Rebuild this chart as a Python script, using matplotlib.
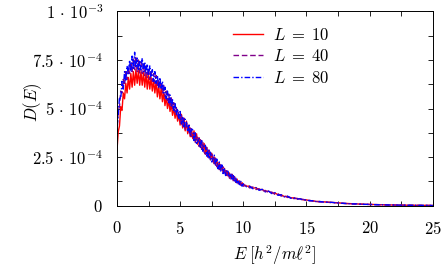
import numpy as np
import matplotlib
matplotlib.use("Agg")
import matplotlib.pyplot as plt
from matplotlib.ticker import MultipleLocator, FixedLocator

plt.rcParams["mathtext.fontset"] = "cm"
plt.rcParams["font.family"] = ["serif"]
plt.rcParams["font.serif"] = ["cmr10", "DejaVu Serif"]

# energy grid: fine steps up to 10, then coarser towards the tail
E_FINE = [round(0.1 * i, 1) for i in range(100)]
E_MID = [10.0 + 0.25 * i for i in range(24)]
E_TAIL = [16.0 + 0.5 * i for i in range(19)]
E = np.array(E_FINE + E_MID + E_TAIL)

# D(E) in units of 1e-4
D_L10 = [
    2.8, 3.8, 4.1, 5.1, 4.9, 5.8, 5.5, 6.3, 5.8, 6.6,
    6.0, 6.8, 6.1, 6.9, 6.2, 7.0, 6.3, 6.95, 6.2, 6.9,
    6.2, 6.85, 6.1, 6.8, 6.0, 6.7, 6.0, 6.6, 5.9, 6.45,
    5.8, 6.4, 5.6, 6.2, 5.5, 6.05, 5.35, 5.85, 5.15, 5.6,
    5.0, 5.45, 4.85, 5.25, 4.65, 5.05, 4.5, 4.9, 4.35, 4.7,
    4.15, 4.7, 4.0, 4.5, 3.85, 4.35, 3.7, 4.15, 3.55, 3.95,
    3.45, 3.85, 3.3, 3.7, 3.15, 3.5, 3.0, 3.35, 2.85, 3.2,
    2.65, 3.0, 2.5, 2.85, 2.4, 2.7, 2.25, 2.5, 2.1, 2.35,
    1.95, 2.2, 1.85, 2.05, 1.72, 1.92, 1.6, 1.8, 1.52, 1.68,
    1.42, 1.58, 1.33, 1.48, 1.24, 1.37, 1.16, 1.27, 1.08, 1.18,
    1.1, 1.0, 1.0, 0.9, 0.92, 0.82, 0.83, 0.73, 0.74, 0.65,
    0.65, 0.56, 0.55, 0.47, 0.47, 0.4, 0.4, 0.35, 0.345, 0.3,
    0.295, 0.255, 0.25, 0.215,
    0.21, 0.185, 0.165, 0.145, 0.115, 0.1, 0.083, 0.072, 0.062, 0.052,
    0.042, 0.036, 0.03, 0.026, 0.02, 0.017, 0.013, 0.011, 0.009,
]
D_L40 = [
    3.7, 4.9, 5.1, 5.9, 5.8, 6.5, 6.2, 6.9, 6.5, 7.1,
    6.8, 7.4, 6.9, 7.6, 7.0, 7.7, 6.9, 7.5, 6.8, 7.4,
    6.8, 7.3, 6.7, 7.2, 6.6, 7.1, 6.5, 6.9, 6.4, 6.8,
    6.3, 6.7, 6.1, 6.5, 6.0, 6.35, 5.8, 6.2, 5.6, 5.9,
    5.4, 5.75, 5.2, 5.55, 5.0, 5.3, 4.8, 5.05, 4.6, 4.85,
    4.3, 4.7, 4.1, 4.5, 3.9, 4.25, 4.1, 3.7, 4.0, 3.55,
    3.45, 3.8, 3.25, 3.6, 3.5, 3.05, 3.4, 2.9, 3.25, 2.75,
    2.65, 3.0, 2.5, 2.85, 2.35, 2.65, 2.5, 2.15, 2.45, 2.0,
    2.2, 1.85, 2.1, 1.75, 2.0, 1.68, 1.85, 1.55, 1.7, 1.42,
    1.38, 1.62, 1.28, 1.5, 1.2, 1.38, 1.12, 1.3, 1.05, 1.2,
    1.0, 1.05, 0.91, 0.96, 0.83, 0.87, 0.75, 0.78, 0.66, 0.7,
    0.58, 0.61, 0.49, 0.52, 0.42, 0.44, 0.36, 0.375, 0.315, 0.32,
    0.27, 0.275, 0.23, 0.23,
    0.19, 0.19, 0.15, 0.15, 0.105, 0.1, 0.076, 0.074, 0.057, 0.053,
    0.038, 0.037, 0.028, 0.027, 0.019, 0.017, 0.011, 0.011, 0.008,
]
D_L80 = [
    4.1, 4.6, 5.6, 5.5, 6.4, 6.0, 6.9, 6.4, 7.2, 6.8,
    7.5, 6.9, 7.7, 7.0, 7.9, 7.1, 7.6, 6.95, 7.5, 7.0,
    7.6, 6.9, 7.4, 6.8, 7.3, 6.7, 7.2, 6.6, 7.0, 6.4,
    6.9, 6.3, 6.7, 6.1, 6.6, 6.0, 6.4, 5.8, 6.1, 5.5,
    5.9, 5.3, 5.7, 5.1, 5.45, 4.9, 5.25, 4.7, 5.0, 4.5,
    4.85, 4.2, 4.6, 4.0, 4.45, 4.3, 3.8, 4.2, 3.6, 3.95,
    3.9, 3.35, 3.75, 3.2, 3.3, 3.5, 2.95, 3.35, 2.8, 3.15,
    3.1, 2.55, 2.9, 2.4, 2.75, 2.25, 2.4, 2.6, 2.05, 2.4,
    1.9, 2.25, 1.75, 2.1, 1.65, 1.95, 1.55, 1.85, 1.75, 1.45,
    1.65, 1.3, 1.55, 1.22, 1.42, 1.12, 1.33, 1.08, 1.25, 1.0,
    1.12, 0.97, 1.0, 0.87, 0.93, 0.79, 0.84, 0.7, 0.75, 0.62,
    0.67, 0.53, 0.56, 0.45, 0.49, 0.38, 0.41, 0.33, 0.355, 0.285,
    0.3, 0.245, 0.255, 0.21,
    0.215, 0.17, 0.17, 0.13, 0.12, 0.088, 0.088, 0.064, 0.065, 0.045,
    0.044, 0.032, 0.032, 0.023, 0.021, 0.015, 0.013, 0.009, 0.008,
]

Y_TICKS = [0, 2.5e-4, 5e-4, 7.5e-4, 1e-3]
Y_TICK_LABELS = [r"$0$", r"$2.5\,\cdot\,10^{-4}$", r"$5\,\cdot\,10^{-4}$",
                 r"$7.5\,\cdot\,10^{-4}$", r"$1\,\cdot\,10^{-3}$"]
X_TICKS = [0, 5, 10, 15, 20, 25]

fig = plt.figure(figsize=(4.43, 2.66), dpi=100)
ax = fig.add_axes([0.264, 0.227, 0.713, 0.730])

ax.plot(E, np.array(D_L10) * 1e-4, color="#ff0000", lw=1.0, ls="-",
        label=r"$L\;=\;10$")
ax.plot(E, np.array(D_L40) * 1e-4, color="#80008a", lw=1.0, ls=(0, (4, 2)),
        label=r"$L\;=\;40$")
ax.plot(E, np.array(D_L80) * 1e-4, color="#0000ff", lw=1.0,
        ls=(0, (4, 1.5, 1, 1.5)), label=r"$L\;=\;80$")

ax.set_xlim(0, 25)
ax.set_ylim(0, 1e-3)
ax.xaxis.set_major_locator(FixedLocator(X_TICKS))
ax.set_xticklabels([rf"${t}$" for t in X_TICKS])
ax.xaxis.set_minor_locator(MultipleLocator(2.5))
ax.yaxis.set_major_locator(FixedLocator(Y_TICKS))
ax.set_yticklabels(Y_TICK_LABELS)
ax.yaxis.set_minor_locator(MultipleLocator(1.25e-4))
ax.tick_params(which="both", direction="in", top=True, right=True,
               length=3.5, width=0.6, labelsize=12)
ax.tick_params(axis="x", pad=10)
ax.tick_params(axis="y", pad=10)
for s in ax.spines.values():
    s.set_linewidth(0.7)

ax.set_xlabel(r"$E\;[h^2/m\ell^2]$", fontsize=12)
ax.xaxis.set_label_coords(0.5, -0.195)
ax.set_ylabel(r"$D(E)$", fontsize=12)
ax.yaxis.set_label_coords(-0.232, 0.53)

ax.legend(loc="upper left", bbox_to_anchor=(0.345, 0.955), frameon=False,
          fontsize=12, handlelength=1.8, handletextpad=0.65,
          labelspacing=0.32, borderaxespad=0)

fig.savefig("out.png", dpi=100)
